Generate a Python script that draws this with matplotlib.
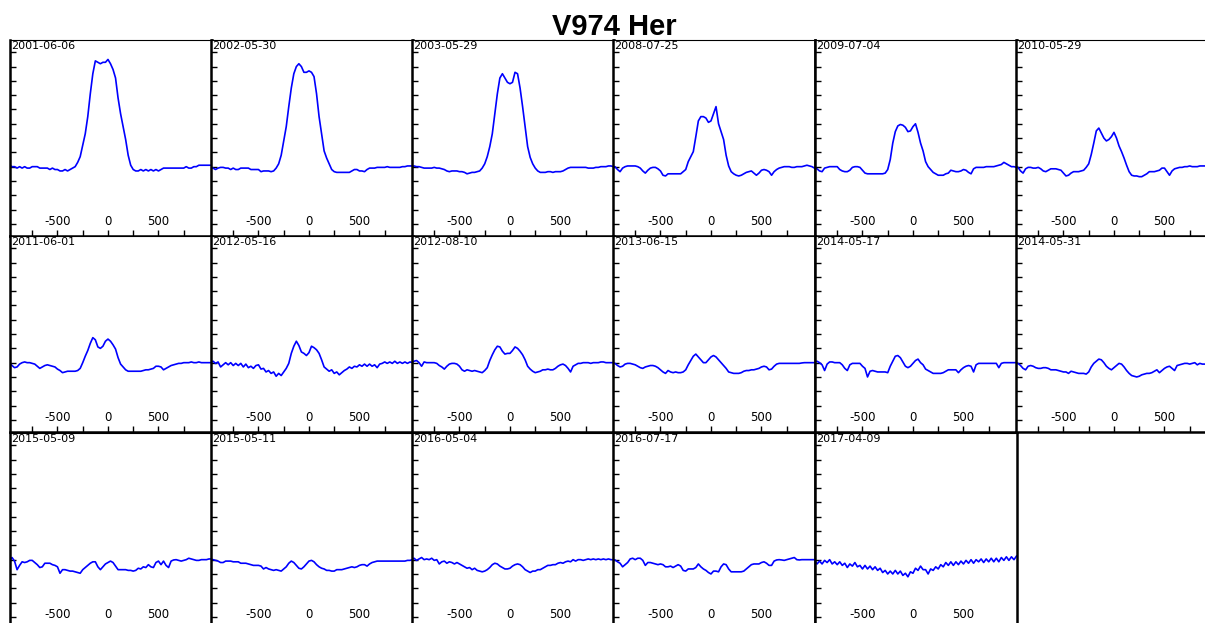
import numpy as np
import matplotlib
matplotlib.use('Agg')
import matplotlib.pyplot as plt
from matplotlib.ticker import FixedLocator, MultipleLocator, NullFormatter

plt.rcParams['axes.unicode_minus'] = False

# velocity grid (km/s), same sampling for every spectrum
vel = np.arange(-975, 1026, 25)

# normalised fluxes, continuum = 1
flux_2001_06_06 = [1.01, 1.00, 1.00, 0.99, 1.00, 0.99, 1.00, 0.99, 0.99, 1.00,
                   1.00, 1.00, 0.99, 0.99, 0.99, 0.99, 0.98, 0.99, 0.98, 0.98,
                   0.97, 0.97, 0.98, 0.97, 0.98, 0.99, 1.00, 1.03, 1.07, 1.15,
                   1.23, 1.35, 1.51, 1.65, 1.74, 1.73, 1.72, 1.73, 1.73, 1.75,
                   1.72, 1.68, 1.62, 1.48, 1.37, 1.28, 1.19, 1.08, 1.01, 0.98,
                   0.97, 0.97, 0.98, 0.97, 0.98, 0.97, 0.98, 0.97, 0.98, 0.97,
                   0.98, 0.99, 0.99, 0.99, 0.99, 0.99, 0.99, 0.99, 0.99, 0.99,
                   1.00, 0.99, 0.99, 1.00, 1.00, 1.01, 1.01, 1.01, 1.01, 1.01, 1.01]
flux_2002_05_30 = [0.995, 0.99, 0.98, 0.99, 0.995, 0.995, 0.99, 0.99, 0.98, 0.99,
                   0.98, 0.98, 0.99, 0.99, 0.99, 0.99, 0.98, 0.98, 0.98, 0.98,
                   0.965, 0.97, 0.97, 0.97, 0.965, 0.97, 0.99, 1.02, 1.08, 1.18,
                   1.28, 1.42, 1.55, 1.65, 1.70, 1.72, 1.70, 1.66, 1.66, 1.67,
                   1.66, 1.63, 1.51, 1.35, 1.23, 1.11, 1.06, 1.02, 0.98, 0.965,
                   0.96, 0.96, 0.96, 0.96, 0.96, 0.96, 0.97, 0.98, 0.98, 0.97,
                   0.97, 0.965, 0.98, 0.99, 0.99, 0.99, 0.995, 0.995, 0.995, 0.995,
                   1.00, 0.995, 0.995, 0.995, 0.995, 0.995, 1.00, 1.00, 1.005, 1.005, 1.005]
flux_2003_05_29 = [1.00, 1.005, 1.00, 1.00, 0.995, 0.99, 0.99, 0.99, 0.99, 0.995,
                   0.99, 0.99, 0.985, 0.98, 0.97, 0.965, 0.97, 0.97, 0.97, 0.965,
                   0.965, 0.96, 0.95, 0.955, 0.96, 0.96, 0.965, 0.97, 0.99, 1.02,
                   1.07, 1.14, 1.23, 1.37, 1.51, 1.62, 1.65, 1.62, 1.59, 1.58,
                   1.59, 1.66, 1.65, 1.55, 1.42, 1.28, 1.14, 1.065, 1.02, 0.99,
                   0.97, 0.96, 0.96, 0.96, 0.965, 0.965, 0.96, 0.965, 0.965, 0.965,
                   0.97, 0.98, 0.99, 0.995, 0.995, 0.995, 0.995, 0.995, 0.995, 0.995,
                   0.99, 0.99, 0.99, 0.995, 0.995, 1.00, 1.00, 1.00, 1.005, 1.005, 1.00]
flux_2008_07_25 = [1.00, 1.00, 0.98, 0.965, 0.99, 1.00, 1.005, 1.005, 1.005, 1.005,
                   1.00, 0.99, 0.97, 0.955, 0.975, 0.99, 0.995, 0.995, 0.985, 0.97,
                   0.94, 0.935, 0.95, 0.95, 0.95, 0.95, 0.95, 0.95, 0.965, 0.98,
                   1.035, 1.07, 1.105, 1.21, 1.32, 1.35, 1.35, 1.34, 1.31, 1.32,
                   1.37, 1.42, 1.30, 1.245, 1.19, 1.08, 1.005, 0.965, 0.95, 0.94,
                   0.935, 0.94, 0.95, 0.96, 0.965, 0.97, 0.955, 0.94, 0.955, 0.975,
                   0.98, 0.975, 0.965, 0.94, 0.965, 0.98, 0.99, 0.995, 1.00, 1.00,
                   1.00, 0.995, 0.995, 1.00, 1.00, 1.00, 1.005, 1.01, 1.005, 1.00, 0.99]
flux_2009_07_04 = [0.995, 0.985, 0.97, 0.965, 0.99, 0.995, 1.00, 1.00, 1.00, 1.00,
                   0.98, 0.97, 0.965, 0.965, 0.975, 0.995, 1.00, 1.00, 0.995, 0.975,
                   0.955, 0.95, 0.95, 0.95, 0.95, 0.95, 0.95, 0.95, 0.955, 0.98,
                   1.05, 1.165, 1.245, 1.285, 1.295, 1.29, 1.275, 1.245, 1.25, 1.28,
                   1.30, 1.24, 1.165, 1.11, 1.035, 1.00, 0.98, 0.96, 0.95, 0.94,
                   0.94, 0.94, 0.95, 0.955, 0.975, 0.97, 0.965, 0.965, 0.97, 0.98,
                   0.975, 0.96, 0.95, 0.985, 0.995, 0.995, 0.995, 0.995, 1.00, 1.00,
                   1.00, 1.00, 1.005, 1.01, 1.015, 1.03, 1.02, 1.01, 1.00, 1.00, 0.995]
flux_2010_05_29 = [1.00, 0.995, 0.97, 0.955, 0.985, 0.995, 0.995, 0.99, 0.99, 0.995,
                   0.985, 0.97, 0.965, 0.975, 0.985, 0.985, 0.985, 0.98, 0.975, 0.955,
                   0.935, 0.94, 0.955, 0.965, 0.965, 0.965, 0.97, 0.975, 0.995, 1.02,
                   1.085, 1.165, 1.25, 1.27, 1.235, 1.20, 1.18, 1.19, 1.21, 1.24,
                   1.20, 1.145, 1.105, 1.06, 1.01, 0.965, 0.94, 0.935, 0.935, 0.93,
                   0.93, 0.94, 0.95, 0.965, 0.965, 0.965, 0.97, 0.975, 0.99, 0.99,
                   0.965, 0.94, 0.97, 0.985, 0.99, 0.995, 0.995, 1.00, 1.00, 1.005,
                   1.00, 1.00, 1.00, 1.005, 1.005, 1.005, 1.005, 1.005, 1.005, 1.005, 1.005]
flux_2011_06_01 = [1.00, 0.98, 0.965, 0.97, 0.99, 1.00, 1.005, 1.00, 1.00, 0.995,
                   0.99, 0.975, 0.96, 0.97, 0.98, 0.985, 0.98, 0.975, 0.97, 0.955,
                   0.945, 0.93, 0.935, 0.94, 0.94, 0.94, 0.94, 0.945, 0.96, 1.00,
                   1.045, 1.085, 1.135, 1.175, 1.16, 1.11, 1.10, 1.115, 1.15, 1.165,
                   1.15, 1.125, 1.095, 1.035, 0.99, 0.97, 0.95, 0.94, 0.94, 0.94,
                   0.94, 0.94, 0.94, 0.945, 0.95, 0.95, 0.955, 0.96, 0.975, 0.975,
                   0.97, 0.95, 0.96, 0.97, 0.98, 0.985, 0.99, 0.995, 0.995, 1.00,
                   1.00, 1.00, 1.005, 1.00, 1.00, 1.005, 1.00, 1.00, 1.00, 1.00, 1.00]
flux_2012_05_16 = [1.00, 1.01, 0.995, 1.005, 0.97, 0.985, 1.00, 0.985, 1.00, 0.98,
                   0.995, 0.98, 0.995, 0.97, 0.99, 0.965, 0.975, 0.96, 0.98, 0.985,
                   0.955, 0.96, 0.935, 0.945, 0.925, 0.935, 0.905, 0.925, 0.91, 0.935,
                   0.96, 0.995, 1.065, 1.115, 1.15, 1.12, 1.075, 1.065, 1.05, 1.07,
                   1.115, 1.105, 1.09, 1.065, 1.02, 0.97, 0.955, 0.94, 0.95, 0.925,
                   0.935, 0.915, 0.93, 0.945, 0.955, 0.97, 0.96, 0.975, 0.97, 0.985,
                   0.975, 0.99, 0.975, 0.99, 0.975, 0.985, 0.965, 0.99, 0.995, 1.005,
                   0.995, 1.005, 0.995, 1.01, 0.995, 1.005, 0.995, 1.005, 0.995, 1.005, 1.00]
flux_2012_08_10 = [1.00, 1.01, 1.015, 1.00, 0.975, 1.005, 1.00, 1.00, 1.00, 1.00,
                   0.995, 0.98, 0.97, 0.955, 0.975, 0.99, 0.995, 0.995, 0.99, 0.975,
                   0.95, 0.94, 0.95, 0.945, 0.94, 0.945, 0.94, 0.935, 0.93, 0.945,
                   0.965, 1.015, 1.055, 1.09, 1.115, 1.11, 1.08, 1.06, 1.065, 1.065,
                   1.085, 1.11, 1.10, 1.08, 1.055, 1.02, 0.975, 0.955, 0.94, 0.93,
                   0.935, 0.94, 0.95, 0.95, 0.955, 0.95, 0.95, 0.96, 0.975, 0.985,
                   0.99, 0.98, 0.96, 0.935, 0.975, 0.985, 0.995, 0.995, 1.00, 1.00,
                   1.00, 0.995, 1.00, 1.00, 1.00, 1.005, 1.005, 1.00, 1.00, 1.00, 1.00]
flux_2013_06_15 = [1.00, 0.995, 0.98, 0.97, 0.975, 0.99, 0.995, 0.995, 0.99, 0.985,
                   0.975, 0.965, 0.96, 0.97, 0.975, 0.98, 0.98, 0.975, 0.965, 0.95,
                   0.935, 0.925, 0.945, 0.935, 0.93, 0.935, 0.93, 0.93, 0.935, 0.95,
                   0.985, 1.015, 1.045, 1.06, 1.04, 1.02, 1.00, 1.00, 1.02, 1.04,
                   1.05, 1.04, 1.02, 1.00, 0.98, 0.96, 0.935, 0.93, 0.925, 0.925,
                   0.925, 0.93, 0.94, 0.945, 0.945, 0.95, 0.95, 0.955, 0.96, 0.97,
                   0.975, 0.97, 0.95, 0.955, 0.975, 0.99, 0.995, 0.995, 0.995, 0.995,
                   0.995, 0.995, 0.995, 0.995, 0.995, 0.998, 1.00, 1.00, 1.00, 1.00, 1.00]
flux_2014_05_17 = [1.005, 1.01, 1.00, 0.985, 0.945, 0.99, 1.005, 1.005, 1.00, 1.00,
                   1.00, 0.985, 0.96, 0.945, 0.985, 0.995, 0.995, 0.995, 0.995, 0.975,
                   0.96, 0.90, 0.94, 0.945, 0.94, 0.935, 0.935, 0.935, 0.935, 0.93,
                   0.975, 1.01, 1.045, 1.05, 1.035, 1.005, 0.975, 0.965, 0.975, 0.995,
                   1.015, 1.025, 1.00, 0.985, 0.955, 0.945, 0.935, 0.925, 0.925, 0.925,
                   0.925, 0.93, 0.94, 0.95, 0.95, 0.95, 0.95, 0.93, 0.95, 0.965,
                   0.975, 0.98, 0.975, 0.935, 0.985, 0.995, 0.995, 0.995, 0.995, 0.995,
                   0.995, 0.995, 0.995, 0.965, 0.995, 1.00, 1.00, 1.00, 1.00, 1.00, 1.00]
flux_2014_05_31 = [1.00, 0.995, 0.98, 0.96, 0.95, 0.975, 0.98, 0.975, 0.965, 0.96,
                   0.96, 0.965, 0.965, 0.96, 0.95, 0.95, 0.95, 0.945, 0.94, 0.935,
                   0.935, 0.925, 0.94, 0.935, 0.93, 0.925, 0.925, 0.925, 0.92, 0.935,
                   0.97, 0.995, 1.01, 1.025, 1.02, 1.00, 0.975, 0.96, 0.95, 0.965,
                   0.98, 0.995, 0.99, 0.97, 0.945, 0.925, 0.91, 0.905, 0.90, 0.905,
                   0.915, 0.92, 0.925, 0.925, 0.93, 0.94, 0.95, 0.93, 0.945, 0.96,
                   0.97, 0.975, 0.96, 0.945, 0.98, 0.985, 0.99, 0.995, 0.995, 0.99,
                   0.995, 1.00, 0.985, 0.995, 0.99, 0.99, 0.99, 0.99, 0.99, 0.99, 0.99]
flux_2015_05_09 = [0.99, 1.015, 0.99, 0.93, 0.96, 0.985, 0.98, 0.985, 0.995, 0.995,
                   0.98, 0.965, 0.945, 0.95, 0.975, 0.975, 0.975, 0.965, 0.96, 0.95,
                   0.905, 0.93, 0.93, 0.925, 0.92, 0.92, 0.915, 0.91, 0.905, 0.93,
                   0.945, 0.96, 0.975, 0.985, 0.985, 0.95, 0.93, 0.95, 0.97, 0.98,
                   0.99, 0.98, 0.955, 0.93, 0.93, 0.93, 0.93, 0.925, 0.925, 0.92,
                   0.925, 0.94, 0.935, 0.95, 0.945, 0.965, 0.95, 0.945, 0.98, 0.99,
                   0.965, 0.99, 0.96, 0.945, 0.99, 0.998, 1.00, 0.995, 0.99, 0.995,
                   1.00, 1.01, 1.005, 1.00, 0.995, 0.995, 1.00, 1.00, 1.00, 1.005, 1.005]
flux_2015_05_11 = [1.005, 1.00, 0.995, 0.99, 0.98, 0.98, 0.99, 0.99, 0.99, 0.985,
                   0.985, 0.985, 0.975, 0.975, 0.975, 0.97, 0.965, 0.96, 0.96, 0.96,
                   0.955, 0.935, 0.945, 0.935, 0.93, 0.925, 0.93, 0.925, 0.92, 0.935,
                   0.95, 0.975, 0.99, 0.98, 0.96, 0.94, 0.935, 0.95, 0.97, 0.99,
                   0.995, 0.985, 0.965, 0.95, 0.94, 0.935, 0.925, 0.925, 0.92, 0.92,
                   0.93, 0.93, 0.93, 0.935, 0.94, 0.945, 0.95, 0.945, 0.95, 0.96,
                   0.965, 0.965, 0.955, 0.97, 0.98, 0.985, 0.99, 0.99, 0.99, 0.99,
                   0.99, 0.99, 0.99, 0.99, 0.99, 0.99, 0.99, 0.99, 0.995, 0.995, 1.00]
flux_2016_05_04 = [1.00, 1.01, 0.995, 1.005, 1.015, 1.00, 1.005, 1.00, 1.01, 0.995,
                   1.00, 0.97, 0.985, 0.99, 0.975, 0.985, 0.98, 0.97, 0.98, 0.97,
                   0.96, 0.95, 0.94, 0.945, 0.93, 0.94, 0.925, 0.92, 0.915, 0.92,
                   0.93, 0.945, 0.965, 0.975, 0.97, 0.955, 0.945, 0.935, 0.935, 0.94,
                   0.955, 0.965, 0.97, 0.965, 0.95, 0.93, 0.92, 0.91, 0.92, 0.92,
                   0.93, 0.93, 0.94, 0.95, 0.96, 0.96, 0.965, 0.965, 0.975, 0.98,
                   0.975, 0.985, 0.99, 0.985, 1.00, 0.99, 1.00, 1.00, 0.995, 1.00,
                   1.005, 1.00, 1.005, 1.00, 1.005, 1.00, 1.005, 1.00, 1.005, 1.00, 1.00]
flux_2016_07_17 = [1.00, 0.998, 0.985, 0.975, 0.95, 0.965, 0.98, 1.005, 1.01, 1.00,
                   1.01, 1.01, 0.995, 0.96, 0.98, 0.98, 0.975, 0.97, 0.965, 0.97,
                   0.965, 0.95, 0.95, 0.955, 0.945, 0.955, 0.965, 0.955, 0.925, 0.92,
                   0.935, 0.935, 0.935, 0.945, 0.97, 0.95, 0.935, 0.925, 0.91, 0.90,
                   0.92, 0.92, 0.915, 0.95, 0.97, 0.965, 0.935, 0.915, 0.915, 0.915,
                   0.915, 0.915, 0.92, 0.935, 0.95, 0.965, 0.97, 0.97, 0.97, 0.98,
                   0.985, 0.975, 0.96, 0.96, 0.99, 0.998, 1.00, 0.998, 0.995, 1.00,
                   1.005, 1.01, 1.015, 1.00, 0.998, 1.00, 1.00, 1.00, 1.00, 1.00, 1.00]
flux_2017_04_09 = [0.995, 0.97, 0.99, 0.97, 0.995, 0.98, 1.00, 0.97, 0.985, 0.965,
                   0.985, 0.96, 0.975, 0.945, 0.97, 0.955, 0.98, 0.95, 0.96, 0.935,
                   0.96, 0.935, 0.955, 0.93, 0.95, 0.925, 0.94, 0.91, 0.925, 0.90,
                   0.92, 0.90, 0.925, 0.90, 0.92, 0.89, 0.905, 0.88, 0.915, 0.905,
                   0.94, 0.925, 0.955, 0.93, 0.93, 0.90, 0.935, 0.925, 0.95, 0.935,
                   0.965, 0.95, 0.98, 0.96, 0.985, 0.96, 0.985, 0.965, 0.99, 0.97,
                   0.995, 0.975, 1.00, 0.975, 1.00, 0.985, 1.005, 0.98, 1.005, 0.985,
                   1.01, 0.985, 1.01, 0.985, 1.015, 0.995, 1.02, 0.995, 1.02, 1.00, 1.025]

dates = ['2001-06-06', '2002-05-30', '2003-05-29', '2008-07-25', '2009-07-04', '2010-05-29',
         '2011-06-01', '2012-05-16', '2012-08-10', '2013-06-15', '2014-05-17', '2014-05-31',
         '2015-05-09', '2015-05-11', '2016-05-04', '2016-07-17', '2017-04-09']
spectra = [flux_2001_06_06, flux_2002_05_30, flux_2003_05_29, flux_2008_07_25,
           flux_2009_07_04, flux_2010_05_29, flux_2011_06_01, flux_2012_05_16,
           flux_2012_08_10, flux_2013_06_15, flux_2014_05_17, flux_2014_05_31,
           flux_2015_05_09, flux_2015_05_11, flux_2016_05_04, flux_2016_07_17,
           flux_2017_04_09]

# panel grid in pixels
W, H = 1205, 623
col_x = [10, 211, 412, 613, 815, 1016]
row_y = [40, 236, 433]
pw, ph = 202, 196

fig = plt.figure(figsize=(W / 100, H / 100), dpi=100)

for k in range(len(spectra)):
 r, c = divmod(k, 6)
 ax = fig.add_axes([col_x[c] / W, 1 - (row_y[r] + ph) / H, pw / W, ph / H])
 ax.plot(vel, spectra[k], color='#0000ff', lw=1.2)
 ax.set_xlim(-970, 1030)
 ax.set_ylim(0.515, 1.886)
 ax.xaxis.set_major_locator(FixedLocator([-500, 0, 500]))
 ax.xaxis.set_minor_locator(FixedLocator([-750, -250, 250, 750]))
 ax.yaxis.set_major_locator(MultipleLocator(0.1))
 ax.yaxis.set_major_formatter(NullFormatter())
 ax.tick_params(axis='x', which='both', direction='in', length=4, width=1,
                pad=-15, labelsize=8.5, top=False)
 ax.tick_params(axis='y', which='both', direction='in', length=4, width=1,
                right=False)
 for side in ['left', 'bottom', 'right']:
  ax.spines[side].set_linewidth(1.8)
 ax.spines['top'].set_linewidth(0.8)
 ax.annotate(dates[k], xy=(0, 1), xycoords='axes fraction', xytext=(0.5, -0.5),
             textcoords='offset points', ha='left', va='top', fontsize=8)

fig.text(614 / W, 1 - 35 / H, 'V974 Her', ha='center', va='baseline',
         fontsize=21, fontweight='bold', family='Liberation Sans')

fig.savefig('out.png', dpi=100)
